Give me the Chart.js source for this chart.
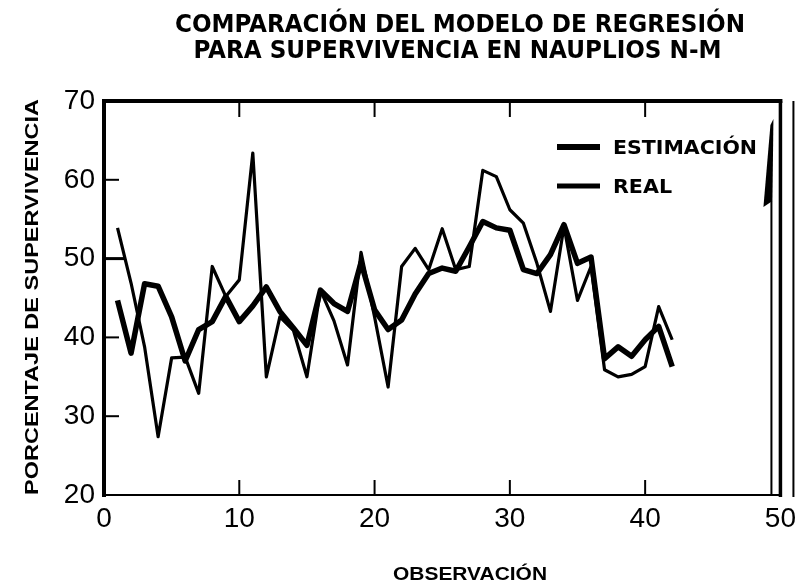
<!DOCTYPE html>
<html>
<head>
<meta charset="utf-8">
<script src="https://cdn.jsdelivr.net/npm/chart.js@4.4.0/dist/chart.umd.min.js"></script>
<style>
  html, body { margin: 0; padding: 0; background: #fff; }
  #c { display: block; }
</style>
</head>
<body>
<canvas id="c" width="803" height="583"></canvas>
<script>
// ---- data ----
const titleLines = ["COMPARACIÓN DEL MODELO DE REGRESIÓN", "PARA SUPERVIVENCIA EN NAUPLIOS N-M"];
const xTitle = "OBSERVACIÓN";
const yTitle = "PORCENTAJE DE SUPERVIVENCIA";
const observations = [1,2,3,4,5,6,7,8,9,10,11,12,13,14,15,16,17,18,19,20,21,22,23,24,25,26,27,28,29,30,31,32,33,34,35,36,37,38,39,40,41,42];
const estimacion = [44.7,38,46.8,46.5,42.6,37,41,42,45.2,42,44,46.4,43.3,41.2,39,46,44.3,43.3,49.5,43.5,41,42.2,45.5,48.1,48.8,48.4,51.5,54.7,53.9,53.6,48.6,48.1,50.5,54.3,49.4,50.2,37.3,38.8,37.6,39.7,41.4,36.3];
const real = [53.9,46.9,38.8,27.4,37.4,37.5,32.9,49,45.2,47.3,63.4,35,42.6,40.9,35,46,42.1,36.5,50.8,42.6,33.7,49,51.3,48.6,53.8,48.6,49,61.2,60.4,56.2,54.5,49.4,43.3,54.1,44.7,49,35.9,35,35.3,36.3,43.9,39.7];
const xTicks = [0,10,20,30,40,50];
const yTicks = [20,30,40,50,60,70];

const condensed = '"Liberation Sans Narrow", "DejaVu Sans Condensed", "Roboto Condensed", sans-serif';
const regular = '"Liberation Sans", Arial, sans-serif';

function fitText(ctx, text, x, y, font, width, rotate) {
  ctx.save();
  ctx.font = font;
  const w = ctx.measureText(text).width;
  ctx.translate(x, y);
  if (rotate) ctx.rotate(rotate);
  ctx.scale(width / w, 1);
  ctx.textAlign = 'center';
  ctx.textBaseline = 'alphabetic';
  ctx.fillStyle = '#000';
  ctx.fillText(text, 0, 0);
  ctx.restore();
}

const decorPlugin = {
  id: 'decor',
  afterDraw(chart) {
    const ctx = chart.ctx;
    const a = chart.chartArea;
    const xs = chart.scales.x, ys = chart.scales.y;
    ctx.save();
    ctx.strokeStyle = '#000';
    ctx.fillStyle = '#000';
    ctx.lineCap = 'butt';
    // frame
    ctx.lineWidth = 4;
    ctx.beginPath(); ctx.moveTo(a.left, a.top - 2); ctx.lineTo(a.left, a.bottom + 2); ctx.stroke();
    ctx.beginPath(); ctx.moveTo(a.left - 2, a.top); ctx.lineTo(a.right + 2, a.top); ctx.stroke();
    ctx.lineWidth = 3.5;
    ctx.beginPath(); ctx.moveTo(a.right, a.top); ctx.lineTo(a.right, a.bottom + 2); ctx.stroke();
    ctx.lineWidth = 2;
    ctx.beginPath(); ctx.moveTo(a.left, a.bottom); ctx.lineTo(a.right, a.bottom); ctx.stroke();
    ctx.lineWidth = 2;
    ctx.beginPath(); ctx.moveTo(a.right + 13, a.top); ctx.lineTo(a.right + 13, a.bottom + 2); ctx.stroke();
    ctx.beginPath(); ctx.moveTo(a.right - 9, a.top + 100); ctx.lineTo(a.right - 9, a.bottom); ctx.stroke();
    ctx.beginPath();
    ctx.moveTo(a.right - 17, a.top + 106);
    ctx.lineTo(a.right - 10, a.top + 24);
    ctx.lineTo(a.right - 7, a.top + 18);
    ctx.lineTo(a.right - 8, a.top + 100);
    ctx.closePath(); ctx.fill();
    // inward ticks
    yTicks.forEach(v => {
      if (v === 20 || v === 70) return;
      const py = ys.getPixelForValue(v);
      const len = v === 50 ? 22 : 15;
      ctx.lineWidth = v === 50 ? 3 : 2;
      ctx.beginPath(); ctx.moveTo(a.left, py); ctx.lineTo(a.left + len, py); ctx.stroke();
    });
    ctx.lineWidth = 2;
    xTicks.forEach(v => {
      if (v === 0 || v === 50) return;
      const px = xs.getPixelForValue(v);
      ctx.beginPath(); ctx.moveTo(px, a.top); ctx.lineTo(px, a.top + 16); ctx.stroke();
      ctx.beginPath(); ctx.moveTo(px, a.bottom); ctx.lineTo(px, a.bottom - 15); ctx.stroke();
    });
    // legend
    const ds = chart.data.datasets;
    const legY = [147, 186];
    ds.forEach((d, i) => {
      ctx.lineWidth = i === 0 ? 6 : 5;
      ctx.beginPath(); ctx.moveTo(557, legY[i]); ctx.lineTo(600, legY[i]); ctx.stroke();
    });
    fitText(ctx, ds[0].label, 685, legY[0] + 7, 'bold 20px ' + condensed, 144);
    fitText(ctx, ds[1].label, 642.5, legY[1] + 7, 'bold 20px ' + condensed, 59);
    // titles
    fitText(ctx, titleLines[0], 460, 32, 'bold 25px ' + condensed, 570);
    fitText(ctx, titleLines[1], 457.5, 58, 'bold 25px ' + condensed, 528);
    fitText(ctx, xTitle, 470, 580, 'bold 18px ' + regular, 154);
    fitText(ctx, yTitle, 38, 297, 'bold 18px ' + regular, 396, -Math.PI / 2);
    ctx.restore();
  }
};

new Chart(document.getElementById('c'), {
  type: 'line',
  data: {
    datasets: [
      { label: 'ESTIMACIÓN', data: observations.map((x, i) => ({ x, y: estimacion[i] })),
        borderColor: '#000', borderWidth: 5.5, pointRadius: 0, tension: 0, fill: false, borderJoinStyle: 'round' },
      { label: 'REAL', data: observations.map((x, i) => ({ x, y: real[i] })),
        borderColor: '#000', borderWidth: 3.2, pointRadius: 0, tension: 0, fill: false, borderJoinStyle: 'round' }
    ]
  },
  options: {
    responsive: false,
    animation: false,
    devicePixelRatio: 1,
    layout: { padding: { top: 101, right: 22, left: 0, bottom: 0 } },
    plugins: { legend: { display: false }, title: { display: false }, tooltip: { enabled: false } },
    scales: {
      x: {
        type: 'linear', min: 0, max: 50,
        afterBuildTicks: s => { s.ticks = xTicks.map(v => ({ value: v })); },
        afterFit: s => { s.height = 88; },
        ticks: { color: '#000', font: { family: regular, size: 28 }, padding: 7 },
        grid: { display: false, drawTicks: false },
        border: { display: false }
      },
      y: {
        min: 20, max: 70,
        afterBuildTicks: s => { s.ticks = yTicks.map(v => ({ value: v })); },
        afterFit: s => { s.width = 104; },
        ticks: { color: '#000', font: { family: regular, size: 28 }, padding: 9 },
        grid: { display: false, drawTicks: false },
        border: { display: false }
      }
    }
  },
  plugins: [decorPlugin]
});
</script>
</body>
</html>
